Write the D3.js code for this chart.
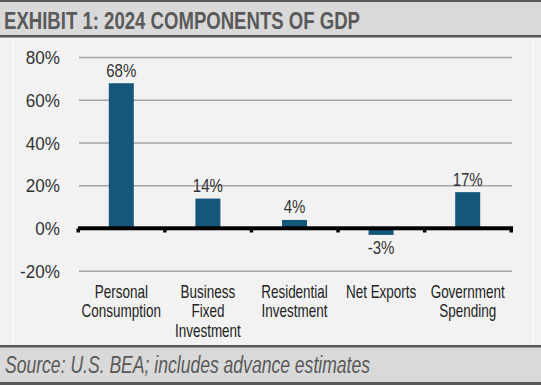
<!DOCTYPE html>
<html><head><meta charset="utf-8">
<script src="https://cdn.jsdelivr.net/npm/d3@7"></script>
<style>body{margin:0;background:#f2f2f2}svg{display:block}</style>
</head><body>
<script>
const categories = [["Personal","Consumption"],["Business","Fixed","Investment"],["Residential","Investment"],["Net Exports"],["Government","Spending"]];
const values = [68, 14, 4, -3, 17];
const yTicks = [-20, 0, 20, 40, 60, 80];
const title = "EXHIBIT 1: 2024 COMPONENTS OF GDP";
const source = "Source: U.S. BEA; includes advance estimates";

const W = 541, H = 385;
const font = "'Liberation Sans',Arial,sans-serif";
const svg = d3.select("body").append("svg").attr("width", W).attr("height", H);

svg.append("rect").attr("width", W).attr("height", H).attr("fill", "#f2f2f2");
svg.append("line").attr("x1",13).attr("x2",13).attr("y1",37).attr("y2",345).attr("stroke","#fafafa").attr("stroke-width",1.5);
svg.append("line").attr("x1",533).attr("x2",533).attr("y1",37).attr("y2",345).attr("stroke","#fafafa").attr("stroke-width",1.5);

// title band
svg.append("rect").attr("x",0).attr("y",0).attr("width",W).attr("height",37).attr("fill","#d9d9d9");
svg.append("rect").attr("x",0).attr("y",0).attr("width",W).attr("height",2).attr("fill","#595959");
svg.append("rect").attr("x",0).attr("y",35).attr("width",W).attr("height",2.5).attr("fill","#595959");
svg.append("text").attr("x",4).attr("y",28.5).text(title)
  .attr("font-family",font).attr("font-weight","bold").attr("font-size",23.5)
  .attr("fill","#595959").attr("textLength",356).attr("lengthAdjust","spacingAndGlyphs");

// footer band
svg.append("rect").attr("x",0).attr("y",345).attr("width",W).attr("height",H-345).attr("fill","#d9d9d9");
svg.append("rect").attr("x",0).attr("y",345).attr("width",W).attr("height",2.5).attr("fill","#595959");
svg.append("rect").attr("x",0).attr("y",382).attr("width",W).attr("height",3).attr("fill","#595959");
svg.append("text").attr("x",5).attr("y",373).text(source)
  .attr("font-family",font).attr("font-style","italic").attr("font-size",23)
  .attr("fill","#595959").attr("textLength",365).attr("lengthAdjust","spacingAndGlyphs");

const x = d3.scaleBand().domain(d3.range(values.length)).range([78, 511]).padding(0);
const y = d3.scaleLinear().domain([-20, 80]).range([271.2, 57.6]);

// gridlines
svg.append("g").selectAll("line").data(yTicks.filter(t => t !== 0)).join("line")
  .attr("x1", 79).attr("x2", 512).attr("y1", d => y(d)).attr("y2", d => y(d))
  .attr("stroke", "#a6a6a6").attr("stroke-width", 1.5);

// y labels
svg.append("g").selectAll("text").data(yTicks).join("text")
  .attr("text-anchor","end")
  .attr("transform", d => `translate(60,${y(d) + 6.7}) scale(0.95,1)`)
  .attr("font-family", font).attr("font-size", 18).attr("fill","#333")
  .text(d => d + "%");

// bars
const bw = 25;
svg.append("g").selectAll("rect").data(values).join("rect")
  .attr("x", (d,i) => x(i) + x.bandwidth()/2 - bw/2)
  .attr("width", bw)
  .attr("y", d => y(Math.max(0,d)))
  .attr("height", d => Math.abs(y(d) - y(0)))
  .attr("fill", "#14577b");

// zero axis
svg.append("rect").attr("x",78).attr("y",y(0)-2.2).attr("width",435).attr("height",4).attr("fill","#000");
const bounds = d3.range(values.length+1).map(i => i < values.length ? x(i) : x(values.length-1)+x.bandwidth());
svg.append("g").selectAll("rect").data(bounds).join("rect")
  .attr("x", d => d - 1.5).attr("y", y(0)).attr("width", 3.5).attr("height", 4).attr("fill","#000");

// value labels
svg.append("g").selectAll("text").data(values).join("text")
  .attr("text-anchor","middle")
  .attr("transform", (d,i) => `translate(${x(i) + x.bandwidth()/2},${d >= 0 ? y(d) - 6.5 : y(d) + 19.5}) scale(0.86,1)`)
  .attr("font-family",font).attr("font-size",17.5).attr("fill","#333")
  .text(d => d + "%");

// category labels
const cl = svg.append("g").selectAll("text").data(categories).join("text")
  .attr("text-anchor","middle").attr("font-family",font).attr("font-size",17.5).attr("fill","#222")
  .attr("transform",(d,i) => `translate(${x(i)+x.bandwidth()/2},297.5) scale(0.77,1)`);
cl.selectAll("tspan").data(d => d).join("tspan")
  .attr("x",0).attr("dy",(d,i) => i===0 ? 0 : 20).text(d => d);
</script>
</body></html>
